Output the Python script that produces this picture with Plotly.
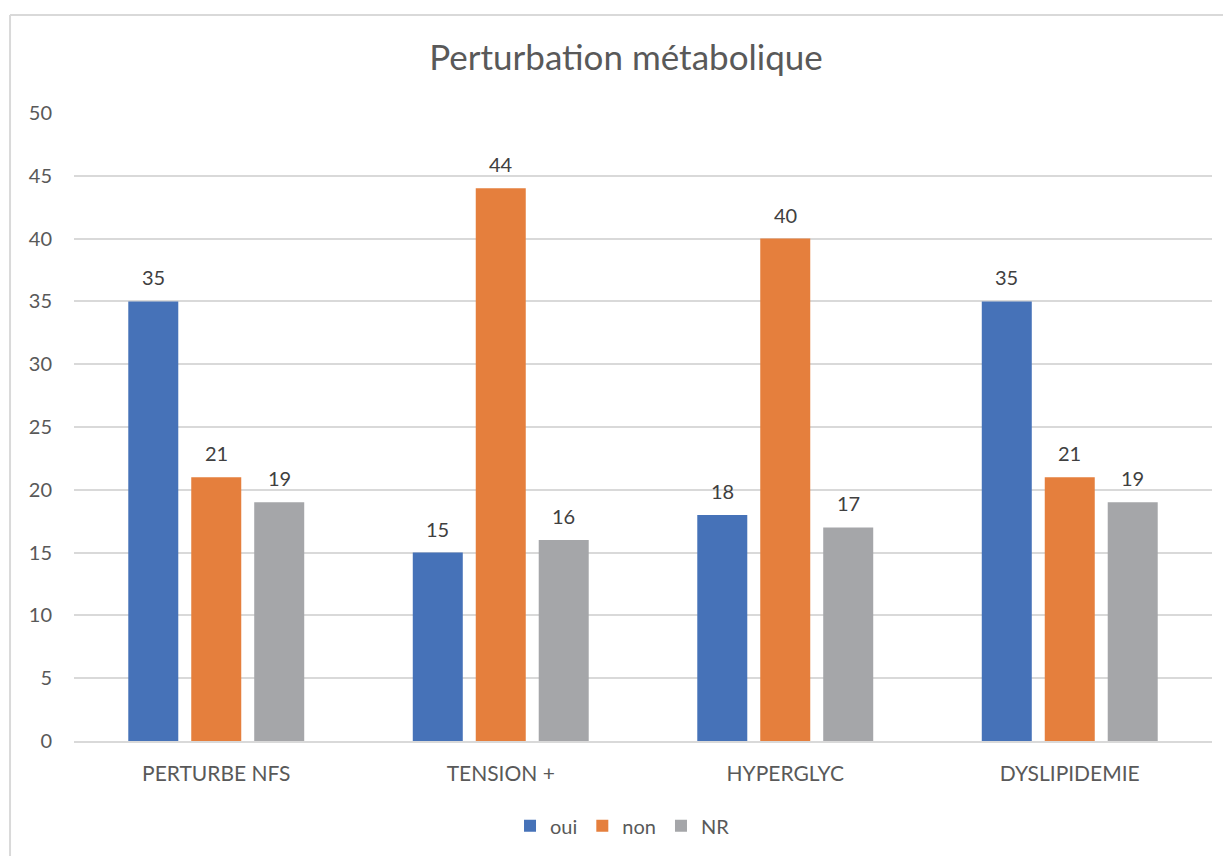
import plotly.graph_objects as go

categories = ["PERTURBE NFS", "TENSION +", "HYPERGLYC", "DYSLIPIDEMIE"]
oui = [35, 15, 18, 35]
non = [21, 44, 40, 21]
nr = [19, 16, 17, 19]

FONT = "Lato, sans-serif"
TEXT = "#595959"
GRID = "#d9d9d9"

series = [("oui", oui, "#4672b8"), ("non", non, "#e57f3d"), ("NR", nr, "#a5a6a9")]

fig = go.Figure()
annotations = []
for i, (name, values, color) in enumerate(series):
    fig.add_trace(go.Bar(
        x=categories, y=values, name=name,
        marker=dict(color=color, line=dict(width=0)),
    ))
    # data labels above each bar, offset to the bar's slot in the group
    for cat, val in zip(categories, values):
        annotations.append(dict(
            x=cat, y=val, xref="x", yref="y", text=str(val), showarrow=False,
            xshift=(i - 1) * 63, yshift=24, yanchor="middle",
            font=dict(size=20, color="#404040", family=FONT),
        ))

fig.update_layout(
    width=1231, height=856,
    margin=dict(l=66, r=27, t=105, b=123),
    paper_bgcolor="#ffffff", plot_bgcolor="#ffffff",
    barmode="group", bargap=0.336, bargroupgap=0.206,
    font=dict(family=FONT, color=TEXT, size=20),
    title=dict(text="Perturbation métabolique", x=0.502, xanchor="center",
               y=1 - 50 / 856, yanchor="middle", yref="container",
               font=dict(size=35, color=TEXT, family=FONT)),
    legend=dict(orientation="h", x=0.482, xanchor="center", y=-0.135, yanchor="middle",
                font=dict(size=20, color=TEXT, family=FONT), itemwidth=30,
                tracegroupgap=0),
    showlegend=True,
    annotations=annotations,
    shapes=[
        dict(type="line", xref="paper", yref="paper", x0=-0.0562, x1=-0.0562, y0=1.156, y1=-0.3,
             line=dict(color="#d9d9d9", width=2)),
        dict(type="line", xref="paper", yref="paper", x0=-0.0562, x1=1.05, y0=1.156, y1=1.156,
             line=dict(color="#d9d9d9", width=2)),
    ],
)
fig.update_xaxes(showgrid=False, showline=True, linecolor=GRID, linewidth=2,
                 ticks="", ticklabelstandoff=13, tickfont=dict(size=21, color=TEXT))
fig.update_yaxes(range=[0, 50], dtick=5, showgrid=True, gridcolor=GRID, gridwidth=1.5,
                 zeroline=False, showline=False, ticks="", ticklabelstandoff=21,
                 tickfont=dict(size=20, color=TEXT))

fig.write_html("out.html")
